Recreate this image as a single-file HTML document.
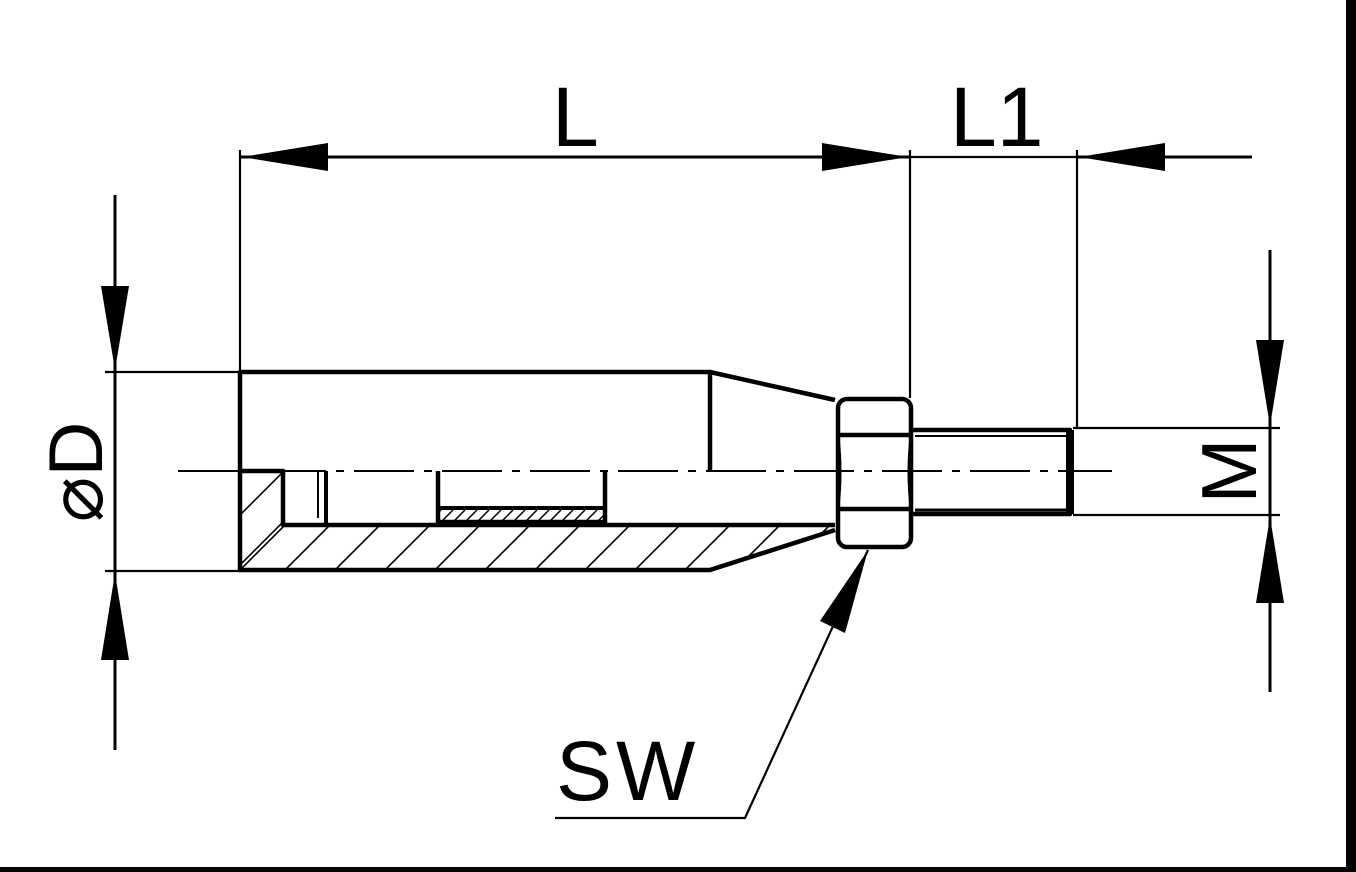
<!DOCTYPE html>
<html><head><meta charset="utf-8"><style>
html,body{margin:0;padding:0;background:#fff;}
svg{display:block;}
text{font-family:"Liberation Sans",sans-serif;fill:#000;}
</style></head><body>
<svg width="1356" height="872" viewBox="0 0 1356 872" xmlns="http://www.w3.org/2000/svg">
<defs>
<clipPath id="hc"><polygon points="240,470 283,470 283,525 835,525 835,530 710,570 240,570"/></clipPath>
<clipPath id="hs"><rect x="440" y="510" width="163" height="11"/></clipPath>
</defs>
<rect width="1356" height="872" fill="#fff"/>
<rect x="1346" y="0" width="10" height="872" fill="#000"/>
<rect x="0" y="867" width="1356" height="5" fill="#000"/>

<g clip-path="url(#hc)" stroke="#000" stroke-width="1.6">
<line x1="185" y1="570" x2="285" y2="470"/>
<line x1="235" y1="570" x2="335" y2="470"/>
<line x1="285" y1="570" x2="385" y2="470"/>
<line x1="335" y1="570" x2="435" y2="470"/>
<line x1="385" y1="570" x2="485" y2="470"/>
<line x1="435" y1="570" x2="535" y2="470"/>
<line x1="485" y1="570" x2="585" y2="470"/>
<line x1="535" y1="570" x2="635" y2="470"/>
<line x1="585" y1="570" x2="685" y2="470"/>
<line x1="635" y1="570" x2="735" y2="470"/>
<line x1="685" y1="570" x2="785" y2="470"/>
<line x1="735" y1="570" x2="835" y2="470"/>
<line x1="785" y1="570" x2="885" y2="470"/>
<line x1="140" y1="570" x2="240" y2="470"/>
<line x1="190" y1="620" x2="290" y2="520"/>
</g>
<g clip-path="url(#hs)" stroke="#000" stroke-width="1.5">
<line x1="430" y1="521" x2="441" y2="510"/><line x1="442" y1="521" x2="453" y2="510"/>
<line x1="454" y1="521" x2="465" y2="510"/><line x1="466" y1="521" x2="477" y2="510"/>
<line x1="478" y1="521" x2="489" y2="510"/><line x1="490" y1="521" x2="501" y2="510"/>
<line x1="502" y1="521" x2="513" y2="510"/><line x1="514" y1="521" x2="525" y2="510"/>
<line x1="526" y1="521" x2="537" y2="510"/><line x1="538" y1="521" x2="549" y2="510"/>
<line x1="550" y1="521" x2="561" y2="510"/><line x1="562" y1="521" x2="573" y2="510"/>
<line x1="574" y1="521" x2="585" y2="510"/><line x1="586" y1="521" x2="597" y2="510"/>
<line x1="598" y1="521" x2="609" y2="510"/>
</g>

<line x1="178" y1="471" x2="1112" y2="471" stroke="#000" stroke-width="2" stroke-dasharray="60,10,8,10"/>

<g fill="none" stroke="#000" stroke-width="4.5" stroke-linejoin="round">
<polyline points="835,400 710,372 240,372 240,570 710,570 835,530"/>
<line x1="710" y1="372" x2="710" y2="471"/>
<polyline points="240,471 283,471 283,525 835,525"/>
<polyline points="438,471 438,522 605,522 605,471"/>
<line x1="438" y1="508" x2="605" y2="508" stroke-width="4"/>
<line x1="326" y1="471" x2="326" y2="525" stroke-width="4"/>
<line x1="318" y1="471" x2="318" y2="518" stroke-width="2"/>
<rect x="838" y="399" width="73" height="148" rx="9" ry="9"/>
<path d="M838,437 Q842,472 838,507 M911,437 Q907,472 911,507" stroke-width="3"/>
<line x1="838" y1="435" x2="911" y2="435"/>
<line x1="838" y1="509" x2="911" y2="509"/>
<polyline points="913,430 1070,430 1070,514 913,514"/>
</g>
<rect x="1066" y="430" width="8" height="84" fill="#000"/>
<line x1="915" y1="436" x2="1068" y2="436" stroke="#000" stroke-width="2"/>
<line x1="915" y1="510" x2="1068" y2="510" stroke="#000" stroke-width="3"/>

<g stroke="#000" stroke-width="2.2" fill="none">
<line x1="240" y1="150" x2="240" y2="372"/>
<line x1="910" y1="150" x2="910" y2="398"/>
<line x1="1077" y1="150" x2="1077" y2="428"/>
<line x1="240" y1="157" x2="910" y2="157" stroke-width="3"/>
<line x1="1077" y1="157" x2="1252" y2="157" stroke-width="3"/>
<line x1="910" y1="157" x2="1077" y2="157"/>
<line x1="105" y1="372" x2="240" y2="372"/>
<line x1="105" y1="571" x2="240" y2="571"/>
<line x1="115" y1="195" x2="115" y2="750" stroke-width="3"/>
<line x1="1073" y1="428" x2="1280" y2="428"/>
<line x1="1073" y1="515" x2="1280" y2="515"/>
<line x1="1270" y1="250" x2="1270" y2="692" stroke-width="3"/>
<polyline points="868,550 745,818 555,818"/>
</g>
<g fill="#000">
<polygon points="242,157 328,143 328,171"/>
<polygon points="908,157 822,143 822,171"/>
<polygon points="1079,157 1165,143 1165,171"/>
<polygon points="115,370 101,286 129,286"/>
<polygon points="115,573 101,660 129,660"/>
<polygon points="1270,426 1256,340 1284,340"/>
<polygon points="1270,517 1256,603 1284,603"/>
<polygon points="868,550 845,633 820,621"/>
</g>

<text x="552" y="146" font-size="84">L</text>
<text x="950" y="146" font-size="84">L1</text>
<text x="556" y="800" font-size="84" letter-spacing="4">SW</text>
<text transform="translate(102,472) rotate(-90)" text-anchor="middle" font-size="76" font-family="'DejaVu Sans',sans-serif">⌀D</text>
<text transform="translate(1256,471) rotate(-90)" text-anchor="middle" font-size="78">M</text>
</svg>
</body></html>
